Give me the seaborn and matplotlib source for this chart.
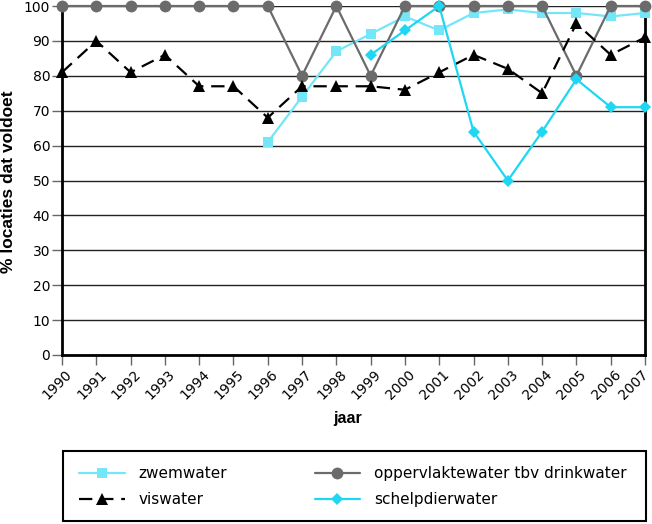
import matplotlib
matplotlib.use("Agg")
import matplotlib.pyplot as plt
import matplotlib.transforms as mtransforms
import matplotlib.patches as mpatches
import seaborn as sns

years = list(range(1990, 2008))
drinkwater = [100, 100, 100, 100, 100, 100, 100, 80, 100, 80, 100, 100, 100, 100, 100, 80, 100, 100]
viswater = [81, 90, 81, 86, 77, 77, 68, 77, 77, 77, 76, 81, 86, 82, 75, 95, 86, 91]
zwem_years = list(range(1996, 2008))
zwemwater = [61, 74, 87, 92, 97, 93, 98, 99, 98, 98, 97, 98]
schelp_years = list(range(1999, 2008))
schelpdierwater = [86, 93, 100, 64, 50, 64, 79, 71, 71]
yticks = list(range(0, 101, 10))

sns.set_style("white")
plt.rcParams['font.family'] = ['DejaVu Sans']
plt.rcParams['text.color'] = 'black'
plt.rcParams['axes.labelcolor'] = 'black'

fig = plt.figure(figsize=(6.52, 5.24), dpi=100)
ax = fig.add_axes([62/652, 1-355/524, (645-62)/652, (355-6)/524])

for y in yticks:
    ax.axhline(y, color='#222222', lw=1.0, zorder=1)

c_zwem = '#73e6f7'
c_schelp = '#1fd7f2'
c_drink = '#6b6b6b'

sns.lineplot(x=years, y=drinkwater, ax=ax, color=c_drink, lw=1.6, marker='o',
             markersize=8.5, markeredgewidth=0, label='oppervlaktewater tbv drinkwater',
             clip_on=False, zorder=4)
sns.lineplot(x=years, y=viswater, ax=ax, color='black', lw=1.6, marker='^',
             markersize=8.5, markeredgewidth=0, label='viswater', linestyle=(0, (6, 3.5)),
             clip_on=False, zorder=5)
sns.lineplot(x=zwem_years, y=zwemwater, ax=ax, color=c_zwem, lw=1.6, marker='s',
             markersize=7.5, markeredgewidth=0, label='zwemwater', clip_on=False, zorder=3)
sns.lineplot(x=schelp_years, y=schelpdierwater, ax=ax, color=c_schelp, lw=1.6, marker='D',
             markersize=6.5, markeredgewidth=0, label='schelpdierwater', clip_on=False, zorder=6)

ax.set_xlim(1990, 2007)
ax.set_ylim(0, 100)
ax.set_yticks(yticks)
ax.set_yticklabels([str(v) for v in yticks], fontsize=10)
ax.set_xticks(years)
ax.set_xticklabels([])
base = mtransforms.blended_transform_factory(ax.transData, ax.transAxes)
for i, yr in enumerate(years):
    dx = 3 if i < len(years) - 1 else -4
    tr = base + mtransforms.ScaledTranslation(dx/100, -12/100, fig.dpi_scale_trans)
    ax.text(yr, 0, str(yr), transform=tr, rotation=45, ha='right', va='top',
            rotation_mode='anchor', fontsize=10, color='black', clip_on=False)
ax.tick_params(axis='y', which='major', length=7, width=1, color='#666666', left=True, pad=1.5,
               labelcolor='black')
ax.tick_params(axis='x', which='major', length=7, width=1, color='#666666', bottom=True, pad=3)

for side in ['left', 'bottom', 'right']:
    ax.spines[side].set_visible(True)
    ax.spines[side].set_color('black')
    ax.spines[side].set_linewidth(2)
ax.spines['top'].set_visible(False)

ax.set_xlabel('jaar', fontsize=11.5, fontweight='bold', family='Liberation Sans')
ax.xaxis.set_label_coords(0.49, -(419-355)/349, transform=ax.transAxes)
ax.xaxis.label.set_va('center')
ax.set_ylabel('% locaties dat voldoet', fontsize=12.5, fontweight='bold', family='Liberation Sans')
ax.yaxis.set_label_coords(-(62-8.5)/583, 1-(182-6)/349, transform=ax.transAxes)
ax.yaxis.label.set_va('center')

handles, labels = ax.get_legend_handles_labels()
order = ['zwemwater', 'viswater', 'oppervlaktewater tbv drinkwater', 'schelpdierwater']
hmap = dict(zip(labels, handles))
ax.get_legend().remove()
leg = fig.legend([hmap[k] for k in order], order, loc='upper left',
                 bbox_to_anchor=(64/652, 1-451/524),
                 ncol=2, fontsize=11, frameon=False,
                 handlelength=3.0, handletextpad=0.9, labelspacing=0.7,
                 columnspacing=5.7, borderpad=1.0, borderaxespad=0)
for t in leg.get_texts():
    t.set_color('black')
frame = mpatches.Rectangle((63/652, 1-521/524), (646-63)/652, (521-451)/524,
                           transform=fig.transFigure, fill=False, edgecolor='black',
                           linewidth=1.5)
fig.add_artist(frame)

fig.savefig('out.png', dpi=100)
